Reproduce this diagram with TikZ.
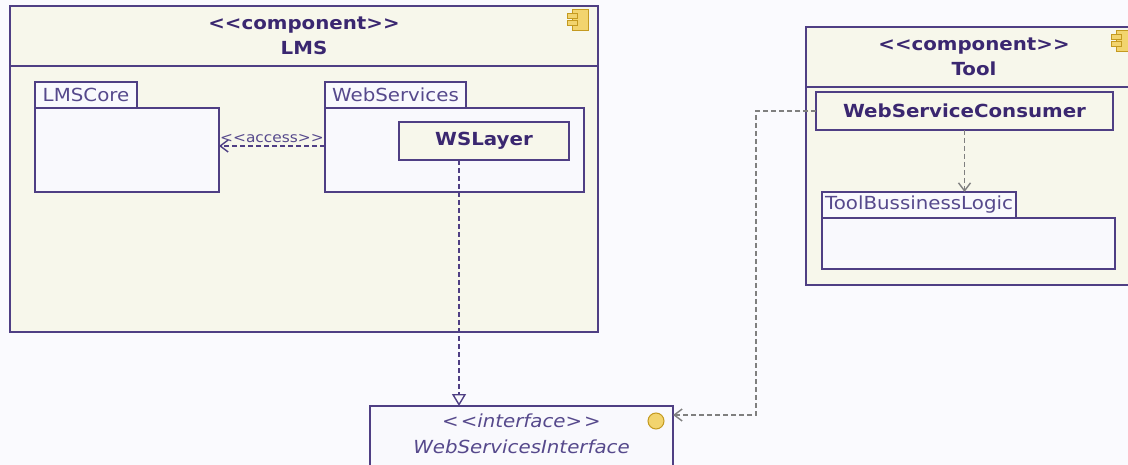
\documentclass[tikz,border=0pt]{standalone}
\usepackage{fontspec}
\setmainfont[FakeStretch=1.1]{DejaVu Sans}
\usepackage{tikz}
\usetikzlibrary{arrows.meta}
\definecolor{umlline}{HTML}{4F3F84}
\definecolor{umltext}{HTML}{3A2770}
\definecolor{umllight}{HTML}{56498C}
\definecolor{compfill}{HTML}{F7F7EB}
\definecolor{pkgfill}{HTML}{F9F9FD}
\definecolor{bgc}{HTML}{FAFAFE}
\definecolor{umlgray}{HTML}{7F7F7F}
\definecolor{iconfill}{HTML}{F2D46E}
\definecolor{icondraw}{HTML}{C49A20}
\newcommand\stereo[1]{<\kern0pt<#1>\kern0pt>}
\newcommand\umlicon[1]{%
  \draw[compicon] ([xshift=-26,yshift=-4]#1.north east) rectangle ([xshift=-10,yshift=-25]#1.north east);
  \draw[compicon] ([xshift=-31,yshift=-8]#1.north east) rectangle ([xshift=-21,yshift=-12.5]#1.north east);
  \draw[compicon] ([xshift=-31,yshift=-15]#1.north east) rectangle ([xshift=-21,yshift=-19.5]#1.north east);}

\begin{document}
\begin{tikzpicture}[x=1pt,y=-1pt,every node/.style={inner sep=0pt,outer sep=0pt,font=\fontsize{18}{25}\selectfont},box/.style={draw=umlline,line width=1.8pt,anchor=north west},comphead/.style={box,fill=compfill,text=umltext,align=center,minimum height=60,font=\fontsize{18}{25}\selectfont\bfseries},compbody/.style={box,fill=compfill},pkgtab/.style={box,fill=pkgfill,text=umllight,minimum height=26},pkgbody/.style={box,fill=pkgfill},part/.style={box,fill=compfill,text=umltext,minimum height=38,font=\fontsize{18}{25}\selectfont\bfseries},compicon/.style={draw=icondraw,fill=iconfill,line width=1pt},dep/.style={line width=1.4pt,dash pattern=on 5pt off 3pt,-{Straight Barb[length=8pt,width=12pt]}},real/.style={line width=1.4pt,dash pattern=on 5pt off 3pt,-{Triangle[open,length=12pt,width=14pt,fill=bgc]}}]

\useasboundingbox (0,0) rectangle (1128,465);
\clip (0,0) rectangle (1128,465);
\fill[bgc] (0,0) rectangle (1128,465);

\node[comphead,minimum width=588] (lms) at (10,6) {\stereo{component}\\LMS};
\node[compbody,minimum width=588,minimum height=266] (lmsbody) at (10,66) {};
\umlicon{lms}
\node[pkgtab,minimum width=102] (coretab) at (35,82) {LMSCore};
\node[pkgbody,minimum width=184,minimum height=84] (core) at (35,108) {};
\node[pkgtab,minimum width=141] (wstab) at (325,82) {WebServices};
\node[pkgbody,minimum width=259,minimum height=84] (ws) at (325,108) {};
\node[part,minimum width=170] (wslayer) at (399,122) {WSLayer};

\node[comphead,minimum width=336] (tool) at (806,27) {\stereo{component}\\Tool};
\node[compbody,minimum width=336,minimum height=198] (toolbody) at (806,87) {};
\umlicon{tool}
\node[part,minimum width=297] (wsc) at (816,92) {WebServiceConsumer};
\node[pkgtab,minimum width=194] (logictab) at (822,192) {ToolBussinessLogic};
\node[pkgbody,minimum width=293,minimum height=51] (logic) at (822,218) {};

\node[box,fill=pkgfill,minimum width=303,minimum height=62] (iface) at (370,406) {};
\node[text=umllight,align=center,font=\fontsize{18}{26}\selectfont\itshape] (ifacetxt) at ([yshift=-28]iface.north) {<\kern2pt<interface>\kern2pt>\\WebServicesInterface};
\draw[compicon] ([xshift=-17,yshift=-15]iface.north east) circle (8);

\draw[dep,umlline] ([yshift=4]ws.west) -- node[above=3pt,text=umllight,font=\fontsize{14}{16}\selectfont] (access) {\stereo{access}} ([yshift=4]core.east);
\draw[real,umlline] ([xshift=-25]wslayer.south) -- ([xshift=-25]wslayer.south |- iface.north);
\draw[dep,umlgray] (wsc.south) -- (wsc.south |- logictab.north);
\draw[dep,umlgray] (wsc.west) -- ++(-60,0) |- ([yshift=-9]iface.north east);
\end{tikzpicture}
\end{document}
